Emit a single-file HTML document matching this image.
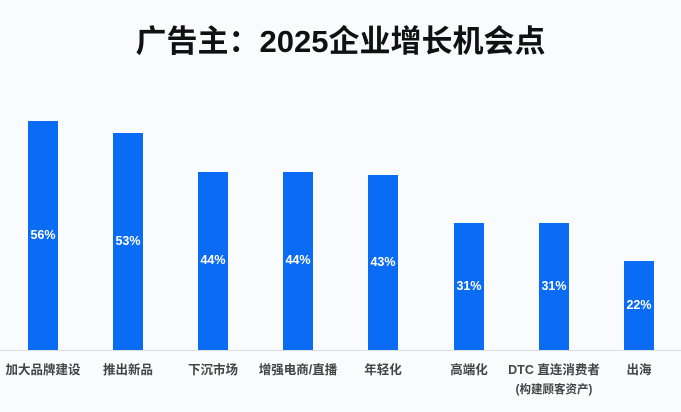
<!DOCTYPE html><html><head><meta charset="utf-8"><style>
body{margin:0;width:681px;height:412px;background:#fafbfc;font-family:"Liberation Sans","Noto Sans CJK SC",sans-serif;position:relative;overflow:hidden}
.t{position:absolute;top:22px;left:0;width:681px;text-align:center;font-size:31px;line-height:40px;font-weight:bold;color:#111}
.b{position:absolute;width:30px;background:#0a6cf5;bottom:62px}
.v{position:absolute;width:50px;text-align:center;color:#fff;font-size:12.5px;font-weight:bold}
.l{position:absolute;width:120px;text-align:center;font-size:12.5px;font-weight:bold;color:#444;top:361px;line-height:19px}
.ax{position:absolute;left:0;width:681px;top:350px;height:1px;background:#ddd}
</style></head><body>
<div class="t">广告主：2025企业增长机会点</div>
<div class="ax"></div>
<div class="b" style="left:28px;top:121px"></div><div class="v" style="left:18px;top:228px">56%</div><div class="l" style="left:-17px">加大品牌建设</div>
<div class="b" style="left:113px;top:133px"></div><div class="v" style="left:103px;top:234px">53%</div><div class="l" style="left:68px">推出新品</div>
<div class="b" style="left:198px;top:172px"></div><div class="v" style="left:188px;top:253px">44%</div><div class="l" style="left:153px">下沉市场</div>
<div class="b" style="left:283px;top:172px"></div><div class="v" style="left:273px;top:253px">44%</div><div class="l" style="left:238px">增强电商/直播</div>
<div class="b" style="left:368px;top:175px"></div><div class="v" style="left:358px;top:255px">43%</div><div class="l" style="left:323px">年轻化</div>
<div class="b" style="left:454px;top:223px"></div><div class="v" style="left:444px;top:279px">31%</div><div class="l" style="left:409px">高端化</div>
<div class="b" style="left:539px;top:223px"></div><div class="v" style="left:529px;top:279px">31%</div><div class="l" style="left:494px">DTC 直连消费者<br><span style="font-size:11.5px">(构建顾客资产)</span></div>
<div class="b" style="left:624px;top:261px"></div><div class="v" style="left:614px;top:298px">22%</div><div class="l" style="left:579px">出海</div>
</body></html>
